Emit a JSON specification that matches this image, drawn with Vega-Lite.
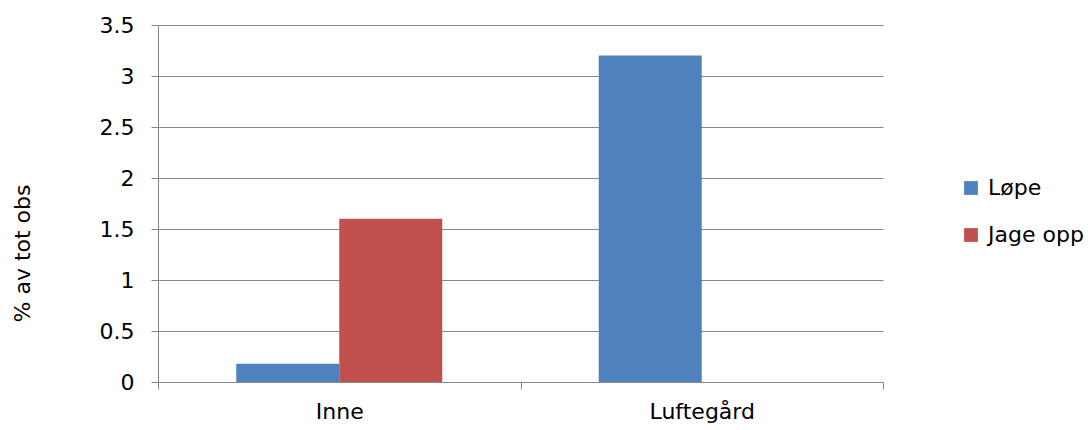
{
  "$schema": "https://vega.github.io/schema/vega-lite/v6.json",
  "autosize": "none",
  "width": 725,
  "height": 357,
  "padding": {"left": 158, "top": 25, "right": 205, "bottom": 48},
  "background": "white",
  "data": {
    "values": [
      {"sted": "Inne", "atferd": "Løpe", "prosent": 0.18},
      {"sted": "Inne", "atferd": "Jage opp", "prosent": 1.6},
      {"sted": "Luftegård", "atferd": "Løpe", "prosent": 3.2},
      {"sted": "Luftegård", "atferd": "Jage opp", "prosent": 0}
    ]
  },
  "config": {
    "font": "DejaVu Sans",
    "view": {"stroke": null}
  },
  "mark": {"type": "bar"},
  "encoding": {
    "x": {
      "field": "sted",
      "type": "nominal",
      "sort": ["Inne", "Luftegård"],
      "scale": {"paddingInner": 0, "paddingOuter": 0},
      "axis": {
        "title": null,
        "labelAngle": 0,
        "labelFontSize": 22,
        "labelColor": "#000000",
        "labelPadding": 12,
        "domainColor": "#888888",
        "tickColor": "#888888",
        "tickBand": "extent",
        "tickSize": 7
      }
    },
    "xOffset": {
      "field": "atferd",
      "type": "nominal",
      "sort": ["Løpe", "Jage opp"],
      "scale": {"paddingInner": 0, "paddingOuter": 0.76}
    },
    "y": {
      "field": "prosent",
      "type": "quantitative",
      "scale": {"domain": [0, 3.5], "nice": false},
      "axis": {
        "title": "% av tot obs",
        "titleFontSize": 22,
        "titleFontWeight": "normal",
        "titleColor": "#000000",
        "titleX": -136,
        "titleY": 228,
        "titleAngle": -90,
        "titleBaseline": "middle",
        "values": [0, 0.5, 1, 1.5, 2, 2.5, 3, 3.5],
        "format": "~g",
        "labelFontSize": 22,
        "labelColor": "#000000",
        "labelPadding": 17,
        "domainColor": "#888888",
        "tickColor": "#888888",
        "tickSize": 7,
        "gridColor": "#888888",
        "gridOpacity": 1
      }
    },
    "color": {
      "field": "atferd",
      "type": "nominal",
      "sort": ["Løpe", "Jage opp"],
      "scale": {"domain": ["Løpe", "Jage opp"], "range": ["#4F81BD", "#C0504D"]},
      "legend": {
        "title": null,
        "orient": "none",
        "legendX": 802,
        "legendY": 152,
        "symbolType": "square",
        "symbolSize": 190,
        "symbolStrokeWidth": 0,
        "labelFontSize": 22,
        "labelColor": "#000000",
        "rowPadding": 25,
        "labelOffset": 6
      }
    }
  }
}
